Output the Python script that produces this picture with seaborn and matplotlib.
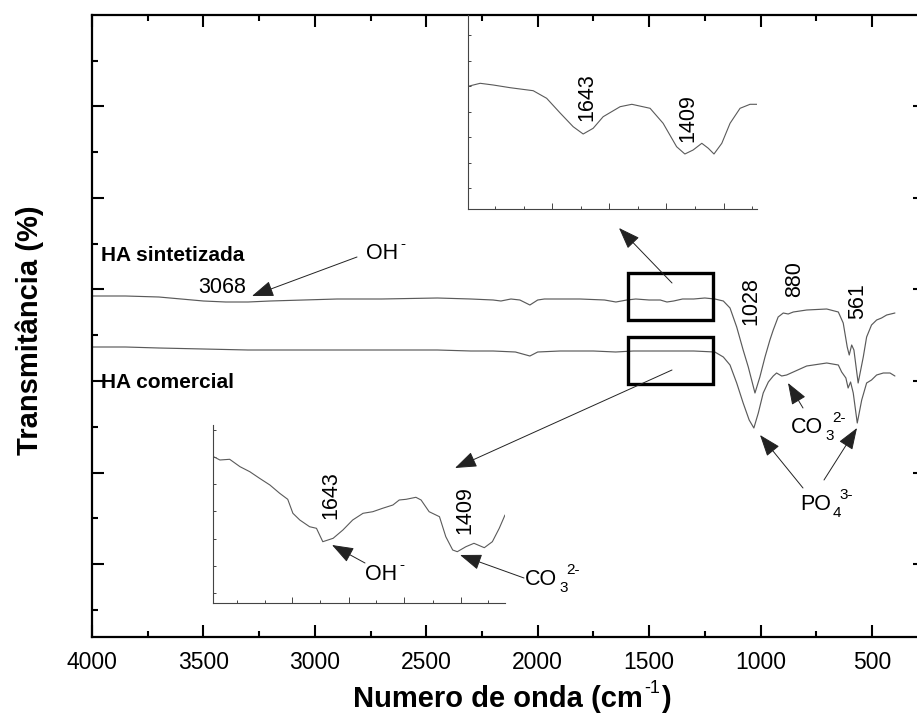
import numpy as np
import pandas as pd
import matplotlib
matplotlib.use("Agg")
import matplotlib.pyplot as plt
import seaborn as sns
from matplotlib.patches import Rectangle
from matplotlib.ticker import FixedLocator, MultipleLocator, NullFormatter

# ---------------- data (transmittance in arbitrary units) ----------------
wn_sint = [4000, 3850, 3700, 3600, 3500, 3400, 3300, 3200, 3050, 2900, 2700, 2450, 2300,
           2200, 2165, 2120, 2080, 2035, 2000, 1970, 1810, 1700, 1649, 1600, 1560, 1500,
           1450, 1420, 1390, 1350, 1300, 1250, 1205, 1167, 1137, 1107, 1078, 1055, 1025,
           1003, 980, 958, 943, 921, 898, 876, 853, 793, 703, 651, 629, 611, 602, 591,
           581, 562, 539, 524, 502, 479, 457, 434, 397]
t_sint = [341, 341, 340, 338, 336, 335, 335, 336, 337, 338, 338, 339, 338,
          337, 336, 338, 337, 332, 337, 338, 338, 337, 335, 337, 338, 337,
          337, 335, 336, 338, 338, 339, 338, 336, 329, 310, 287, 270, 244,
          260, 280, 297, 307, 320, 324, 323, 325, 327, 328, 325, 314, 290, 282, 292,
          287, 254, 280, 300, 312, 317, 319, 322, 324]

wn_com = [4000, 3850, 3700, 3500, 3300, 3000, 2700, 2450, 2300, 2200, 2100, 2035, 2000,
          1900, 1750, 1650, 1571, 1450, 1300, 1205, 1167, 1137, 1107, 1078, 1051, 1030,
          1010, 988, 965, 943, 928, 905, 883, 853, 793, 703, 651, 636, 617, 607, 596,
          584, 566, 546, 524, 502, 479, 449, 419, 397]
t_com = [290, 290, 289, 288, 287, 287, 287, 287, 286, 286, 285, 281, 285,
         286, 286, 285, 286, 286, 286, 285, 280, 272, 254, 234, 217, 209,
         224, 244, 255, 261, 264, 261, 262, 265, 271, 274, 272, 265, 259, 249, 255,
         244, 214, 237, 254, 257, 262, 264, 264, 261]

# zoomed region of HA sintetizada (upper inset)
wn_zoom_sint = [1905, 1880, 1850, 1811, 1758, 1727, 1696, 1666, 1643, 1620, 1597, 1558,
                1531, 1489, 1459, 1428, 1409, 1390, 1370, 1355, 1342, 1324, 1305, 1282,
                1259, 1242]
t_zoom_sint = [123, 125.7, 124, 121.3, 118.3, 110.7, 96, 82.3, 75, 80.7, 92.3, 102.3,
               104.7, 100.7, 85.7, 62.3, 55, 59, 65.7, 60.7, 55, 65.7, 85.7, 100.7,
               104.7, 104.7]

# zoomed region of HA comercial (lower inset)
wn_zoom_com = [1833, 1822, 1805, 1787, 1770, 1753, 1735, 1718, 1704, 1695, 1683, 1666,
               1654, 1643, 1625, 1608, 1591, 1573, 1556, 1539, 1521, 1510, 1498, 1481,
               1472, 1458, 1440, 1429, 1417, 1409, 1394, 1380, 1362, 1348, 1336, 1326]
t_zoom_com = [146.3, 143, 143.7, 136.3, 131.3, 124.7, 118, 109.7, 103.7, 89.7, 83, 76.3,
              74.7, 61.3, 64.7, 73, 83, 89.7, 91.3, 94.7, 98, 103, 103.7, 105.7,
              103, 91.3, 86.3, 66.3, 53, 51.3, 56.3, 59.7, 55.3, 61.3, 74.7, 88]

# highlighted windows (wavenumber range, transmittance range)
box_wn = [1595, 1214]
box_t_sint = [317, 364]
box_t_com = [253, 300]

peak_labels_main = ["1028", "880", "561"]
peak_labels_inset = ["1643", "1409"]
xticks_main = [4000, 3500, 3000, 2500, 2000, 1500, 1000, 500]

# ---------------- style ----------------
sns.set_theme(style="white")
plt.rcParams["font.family"] = ["Liberation Sans", "DejaVu Sans"]

W, H = 917, 726
fig = plt.figure(figsize=(W / 100, H / 100), dpi=100)
fig.patch.set_facecolor("white")
renderer = fig.canvas.get_renderer()


def rect(x0, y0, x1, y1):
    return [x0 / W, 1 - y1 / H, (x1 - x0) / W, (y1 - y0) / H]


LINE = "#5a5a5a"
FS_TXT = 15.5
FS_SMALL = 11

# ---------------- main axes ----------------
ax = fig.add_axes(rect(92, 15, 925, 637))
df_s = pd.DataFrame({"wn": wn_sint, "T": t_sint})
df_c = pd.DataFrame({"wn": wn_com, "T": t_com})
sns.lineplot(data=df_s, x="wn", y="T", ax=ax, color=LINE, lw=0.85, sort=False, estimator=None)
sns.lineplot(data=df_c, x="wn", y="T", ax=ax, color=LINE, lw=0.85, sort=False, estimator=None)
ax.set_xlim(4000, 262)
ax.set_ylim(0, 622)
ax.set_xlabel("")
ax.set_ylabel("")
ax.xaxis.set_major_locator(FixedLocator(xticks_main))
ax.xaxis.set_minor_locator(MultipleLocator(250))
ax.set_xticklabels([str(v) for v in xticks_main])
ax.yaxis.set_major_locator(FixedLocator([73, 164, 256, 348, 439, 531]))
ax.yaxis.set_minor_locator(FixedLocator([27, 119, 210, 302, 393, 485, 576]))
ax.yaxis.set_major_formatter(NullFormatter())
ax.tick_params(which="both", direction="in", top=True, right=True, bottom=True, left=True,
               color="black", width=1.5)
ax.tick_params(which="major", length=8.5)
ax.tick_params(which="minor", length=4.5)
ax.tick_params(axis="x", which="major", labelsize=16.5, pad=10, labelcolor="black")
for s in ax.spines.values():
    s.set_linewidth(1.6)
    s.set_color("black")

for t_rng in (box_t_sint, box_t_com):
    ax.add_patch(Rectangle((box_wn[1], t_rng[0]), box_wn[0] - box_wn[1], t_rng[1] - t_rng[0],
                           fill=False, ec="black", lw=2.4, zorder=5))

# ---------------- insets ----------------
def style_inset(a, xmaj, xmin, yt):
    a.set_facecolor("none")
    for k in ("top", "right"):
        a.spines[k].set_visible(False)
    for k in ("left", "bottom"):
        a.spines[k].set_linewidth(0.8)
        a.spines[k].set_color("#444444")
    a.xaxis.set_major_locator(FixedLocator(xmaj))
    a.xaxis.set_minor_locator(FixedLocator(xmin))
    a.yaxis.set_major_locator(FixedLocator(yt))
    a.yaxis.set_minor_locator(FixedLocator([]))
    a.xaxis.set_major_formatter(NullFormatter())
    a.yaxis.set_major_formatter(NullFormatter())
    a.tick_params(which="both", direction="in", color="#444444", width=0.7,
                  top=False, right=False, bottom=True, left=True)
    a.tick_params(axis="x", which="major", length=4)
    a.tick_params(axis="x", which="minor", length=2.2)
    a.tick_params(axis="y", which="major", length=2.2)
    a.set_xlabel("")
    a.set_ylabel("")


ax1 = fig.add_axes(rect(468, 15, 757, 209))
sns.lineplot(x=wn_zoom_sint, y=t_zoom_sint, ax=ax1, color=LINE, lw=0.8, sort=False, estimator=None)
ax1.set_xlim(1908, 1243)
ax1.set_ylim(0, 194)
style_inset(ax1, [1714, 1583, 1452, 1320], [1846, 1780, 1649, 1517, 1386, 1255],
            [21 + 25.5 * k for k in range(7)])

ax2 = fig.add_axes(rect(213, 425, 505, 603))
sns.lineplot(x=wn_zoom_com, y=t_zoom_com, ax=ax2, color=LINE, lw=0.8, sort=False, estimator=None)
ax2.set_xlim(1834, 1326)
ax2.set_ylim(0, 178)
style_inset(ax2, [1696, 1598, 1501, 1403], [1793, 1744, 1647, 1550, 1452, 1355],
            [10.3 + 27.1 * k for k in range(7)])

# ---------------- annotations (figure pixel positions) ----------------
def txt(x, y, s, ha="center", va="center", **kw):
    fig.text(x / W, 1 - y / H, s, ha=ha, va=va, color="black", **kw)


def compose(parts, x, yb, align="left"):
    """parts: (text, size, weight, dy, gap, advance) placed on a common baseline."""
    objs, cur = [], 0.0
    for s, size, weight, dy, gap, adv in parts:
        t = fig.text(0, 0, s, fontsize=size, fontweight=weight, ha="left",
                     va="baseline", color="black")
        objs.append((t, cur + gap, dy))
        if adv:
            cur += gap + t.get_window_extent(renderer).width
    total = cur
    x0 = x - total / 2 if align == "center" else x
    for t, off, dy in objs:
        t.set_position(((x0 + off) / W, 1 - (yb + dy) / H))


def ion(x, yb, main, sub=None, sup=None):
    parts = [(main, FS_TXT, "normal", 0, 0, True)]
    if sub:
        parts.append((sub, FS_SMALL, "normal", 7, 2, False))
        parts.append((sup, FS_SMALL, "normal", -11, 9, True))
    else:
        parts.append((sup, FS_SMALL, "normal", -11, 2, True))
    compose(parts, x, yb)


def arrow(head, tail):
    ax.annotate("", xy=(head[0], H - head[1]), xytext=(tail[0], H - tail[1]),
                xycoords="figure pixels", textcoords="figure pixels",
                arrowprops=dict(arrowstyle="-|>,head_length=0.9,head_width=0.33",
                                color="#222222", lw=0.7, mutation_scale=15,
                                shrinkA=0, shrinkB=0),
                annotation_clip=False, zorder=6)


compose([("Numero de onda (cm", 21, "bold", 0, 0, True),
         ("-1", 13, "normal", -14, 1, True),
         (")", 21, "bold", 0, 1, True)], 512, 707, align="center")
txt(30, 330, "Transmitância (%)", fontsize=21, fontweight="bold", rotation=90)

txt(101, 255, "HA sintetizada", ha="left", fontsize=15, fontweight="bold")
txt(101, 383, "HA comercial", ha="left", fontsize=15, fontweight="bold")
txt(222, 287, "3068", fontsize=FS_TXT)
ion(366, 259, "OH", sup="-")
arrow((252, 296), (357, 257))

txt(751, 301, peak_labels_main[0], fontsize=FS_TXT, rotation=90)
txt(795, 279, peak_labels_main[1], fontsize=FS_TXT, rotation=90)
txt(858, 301, peak_labels_main[2], fontsize=FS_TXT, rotation=90)

ion(791, 433, "CO", "3", "2-")
arrow((788, 383), (803, 408))
ion(800, 510, "PO", "4", "3-")
arrow((760, 435), (803, 488))
arrow((857, 428), (824, 480))

arrow((619, 228), (672, 283))
arrow((455, 468), (672, 370))

txt(587, 97, peak_labels_inset[0], fontsize=FS_TXT, rotation=90)
txt(688, 118, peak_labels_inset[1], fontsize=FS_TXT, rotation=90)
txt(331, 495, peak_labels_inset[0], fontsize=FS_TXT, rotation=90)
txt(465, 510, peak_labels_inset[1], fontsize=FS_TXT, rotation=90)

ion(365, 580, "OH", sup="-")
arrow((332, 545), (365, 563))
ion(525, 585, "CO", "3", "2-")
arrow((460, 555), (524, 578))

fig.savefig("out.png", dpi=100)
